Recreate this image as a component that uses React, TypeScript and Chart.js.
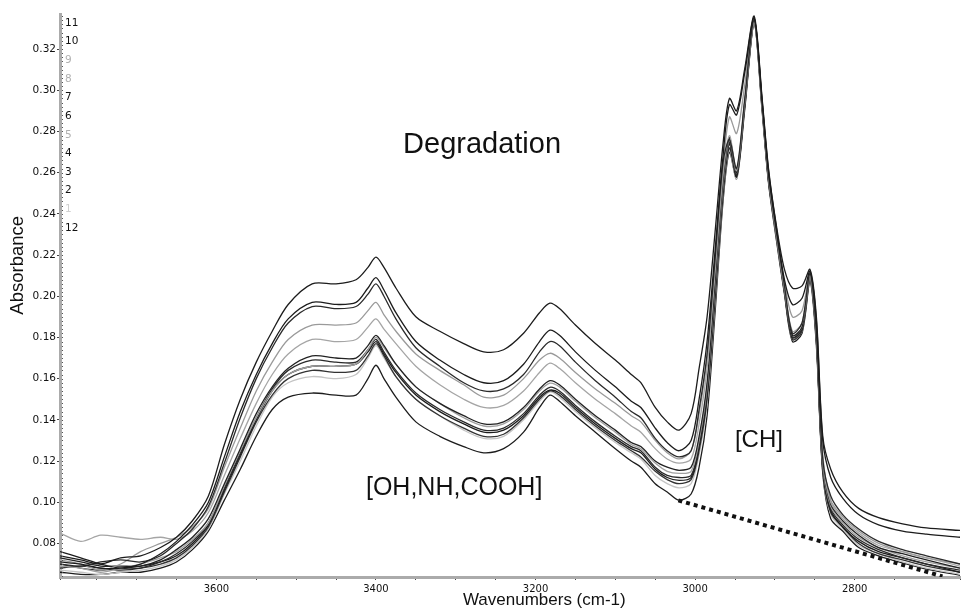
import React, { useEffect, useRef } from "react";
import { Chart, registerables } from "chart.js";

Chart.register(...registerables);

// Wavenumbers (cm-1), descending
const wavenumbers = [3796, 3770, 3745, 3720, 3695, 3670, 3650, 3630, 3610, 3590, 3570, 3550, 3530, 3510, 3480, 3450, 3425, 3410, 3400, 3390, 3375, 3350, 3320, 3290, 3265, 3240, 3215, 3195, 3182, 3170, 3150, 3125, 3100, 3080, 3068, 3050, 3035, 3020, 3005, 2995, 2985, 2975, 2965, 2957, 2948, 2938, 2926, 2916, 2908, 2898, 2888, 2878, 2866, 2856, 2848, 2840, 2830, 2815, 2795, 2770, 2740, 2710, 2668];

const spectrum11 = [0.074, 0.072, 0.070, 0.073, 0.074, 0.078, 0.083, 0.091, 0.103, 0.128, 0.150, 0.168, 0.183, 0.196, 0.206, 0.206, 0.208, 0.214, 0.219, 0.214, 0.204, 0.190, 0.183, 0.177, 0.173, 0.174, 0.182, 0.192, 0.1966, 0.194, 0.186, 0.177, 0.169, 0.162, 0.158, 0.146, 0.139, 0.135, 0.143, 0.165, 0.190, 0.231, 0.274, 0.296, 0.290, 0.310, 0.336, 0.296, 0.262, 0.234, 0.213, 0.204, 0.205, 0.213, 0.190, 0.132, 0.116, 0.105, 0.097, 0.0925, 0.0895, 0.0875, 0.0863];
const spectrum10 = [0.071, 0.070, 0.068, 0.068, 0.070, 0.075, 0.081, 0.089, 0.100, 0.122, 0.144, 0.162, 0.177, 0.189, 0.197, 0.196, 0.197, 0.204, 0.209, 0.203, 0.192, 0.178, 0.169, 0.162, 0.158, 0.159, 0.167, 0.178, 0.1835, 0.181, 0.173, 0.164, 0.156, 0.149, 0.146, 0.136, 0.129, 0.125, 0.130, 0.150, 0.178, 0.222, 0.268, 0.293, 0.288, 0.308, 0.335, 0.295, 0.261, 0.233, 0.208, 0.196, 0.199, 0.212, 0.188, 0.130, 0.112, 0.102, 0.094, 0.089, 0.086, 0.0845, 0.083];
const spectrum7 = [0.070, 0.069, 0.071, 0.072, 0.071, 0.074, 0.080, 0.087, 0.098, 0.119, 0.141, 0.160, 0.175, 0.187, 0.195, 0.194, 0.195, 0.201, 0.206, 0.200, 0.189, 0.175, 0.166, 0.158, 0.154, 0.155, 0.162, 0.173, 0.178, 0.176, 0.168, 0.159, 0.151, 0.144, 0.141, 0.131, 0.125, 0.122, 0.125, 0.145, 0.172, 0.218, 0.265, 0.276, 0.262, 0.295, 0.334, 0.294, 0.259, 0.231, 0.205, 0.182, 0.187, 0.211, 0.182, 0.121, 0.103, 0.094, 0.087, 0.081, 0.077, 0.074, 0.070];
const spectrum9 = [0.072, 0.070, 0.067, 0.070, 0.076, 0.080, 0.083, 0.088, 0.097, 0.117, 0.136, 0.154, 0.168, 0.179, 0.186, 0.186, 0.187, 0.193, 0.197, 0.191, 0.183, 0.172, 0.164, 0.157, 0.151, 0.152, 0.160, 0.169, 0.1723, 0.170, 0.163, 0.155, 0.148, 0.142, 0.139, 0.130, 0.124, 0.121, 0.125, 0.143, 0.170, 0.216, 0.262, 0.287, 0.279, 0.302, 0.335, 0.294, 0.260, 0.232, 0.207, 0.190, 0.193, 0.211, 0.184, 0.123, 0.101, 0.093, 0.086, 0.080, 0.076, 0.073, 0.070];
const spectrum8 = [0.085, 0.081, 0.084, 0.083, 0.082, 0.083, 0.082, 0.086, 0.095, 0.113, 0.131, 0.148, 0.162, 0.172, 0.179, 0.178, 0.179, 0.185, 0.189, 0.184, 0.177, 0.166, 0.157, 0.150, 0.146, 0.147, 0.154, 0.163, 0.1675, 0.165, 0.158, 0.150, 0.143, 0.137, 0.134, 0.126, 0.121, 0.119, 0.121, 0.138, 0.165, 0.212, 0.259, 0.278, 0.261, 0.294, 0.333, 0.293, 0.258, 0.230, 0.204, 0.183, 0.187, 0.210, 0.181, 0.120, 0.100, 0.092, 0.085, 0.079, 0.076, 0.073, 0.069];
const spectrum6 = [0.073, 0.071, 0.069, 0.069, 0.069, 0.072, 0.077, 0.083, 0.092, 0.109, 0.126, 0.143, 0.156, 0.165, 0.171, 0.170, 0.170, 0.176, 0.181, 0.176, 0.167, 0.156, 0.148, 0.142, 0.138, 0.139, 0.146, 0.155, 0.159, 0.157, 0.150, 0.142, 0.135, 0.129, 0.127, 0.120, 0.117, 0.1155, 0.117, 0.132, 0.158, 0.207, 0.256, 0.277, 0.260, 0.293, 0.334, 0.293, 0.258, 0.230, 0.204, 0.181, 0.185, 0.210, 0.180, 0.119, 0.099, 0.091, 0.084, 0.078, 0.075, 0.072, 0.068];
const spectrum5 = [0.069, 0.068, 0.066, 0.068, 0.070, 0.073, 0.076, 0.082, 0.090, 0.108, 0.125, 0.141, 0.154, 0.162, 0.166, 0.166, 0.167, 0.174, 0.180, 0.175, 0.167, 0.156, 0.148, 0.141, 0.137, 0.138, 0.145, 0.154, 0.1578, 0.156, 0.149, 0.141, 0.134, 0.128, 0.126, 0.119, 0.115, 0.114, 0.115, 0.130, 0.156, 0.205, 0.254, 0.276, 0.260, 0.293, 0.333, 0.292, 0.257, 0.229, 0.203, 0.181, 0.185, 0.209, 0.179, 0.118, 0.098, 0.090, 0.083, 0.078, 0.074, 0.071, 0.068];
const spectrum4 = [0.068, 0.069, 0.068, 0.067, 0.068, 0.071, 0.075, 0.081, 0.090, 0.107, 0.124, 0.141, 0.155, 0.164, 0.169, 0.168, 0.168, 0.174, 0.179, 0.173, 0.164, 0.153, 0.145, 0.139, 0.135, 0.136, 0.143, 0.152, 0.1558, 0.154, 0.147, 0.139, 0.132, 0.127, 0.125, 0.117, 0.113, 0.112, 0.113, 0.128, 0.154, 0.203, 0.252, 0.275, 0.259, 0.292, 0.334, 0.292, 0.257, 0.229, 0.203, 0.180, 0.184, 0.209, 0.179, 0.117, 0.097, 0.089, 0.082, 0.077, 0.073, 0.070, 0.067];
const spectrum3 = [0.076, 0.073, 0.070, 0.068, 0.069, 0.071, 0.074, 0.080, 0.089, 0.106, 0.123, 0.140, 0.154, 0.162, 0.166, 0.166, 0.167, 0.173, 0.178, 0.172, 0.163, 0.152, 0.144, 0.138, 0.134, 0.135, 0.142, 0.151, 0.1544, 0.153, 0.146, 0.138, 0.131, 0.126, 0.124, 0.116, 0.112, 0.1106, 0.112, 0.127, 0.152, 0.201, 0.251, 0.274, 0.258, 0.292, 0.333, 0.292, 0.256, 0.229, 0.202, 0.180, 0.184, 0.209, 0.178, 0.116, 0.096, 0.088, 0.081, 0.076, 0.073, 0.070, 0.066];
const spectrum2 = [0.070, 0.068, 0.067, 0.068, 0.068, 0.070, 0.073, 0.079, 0.088, 0.105, 0.122, 0.139, 0.152, 0.160, 0.164, 0.163, 0.164, 0.171, 0.177, 0.171, 0.161, 0.150, 0.142, 0.136, 0.132, 0.133, 0.141, 0.150, 0.154, 0.152, 0.145, 0.137, 0.130, 0.125, 0.122, 0.115, 0.111, 0.109, 0.111, 0.125, 0.150, 0.199, 0.250, 0.272, 0.258, 0.291, 0.332, 0.291, 0.256, 0.228, 0.202, 0.179, 0.183, 0.208, 0.178, 0.115, 0.095, 0.088, 0.080, 0.075, 0.072, 0.069, 0.066];
const spectrum1 = [0.067, 0.066, 0.065, 0.066, 0.067, 0.069, 0.072, 0.078, 0.087, 0.104, 0.120, 0.137, 0.151, 0.158, 0.161, 0.160, 0.162, 0.170, 0.176, 0.170, 0.161, 0.150, 0.142, 0.135, 0.131, 0.132, 0.140, 0.149, 0.1535, 0.151, 0.144, 0.136, 0.129, 0.124, 0.121, 0.113, 0.109, 0.107, 0.109, 0.123, 0.148, 0.197, 0.249, 0.271, 0.257, 0.291, 0.333, 0.291, 0.256, 0.228, 0.202, 0.179, 0.183, 0.208, 0.177, 0.115, 0.094, 0.087, 0.079, 0.075, 0.071, 0.068, 0.065];
const spectrum12 = [0.066, 0.065, 0.065, 0.066, 0.066, 0.068, 0.071, 0.077, 0.086, 0.101, 0.116, 0.132, 0.145, 0.151, 0.153, 0.152, 0.152, 0.160, 0.1665, 0.160, 0.151, 0.139, 0.132, 0.127, 0.124, 0.126, 0.134, 0.146, 0.152, 0.149, 0.142, 0.134, 0.126, 0.120, 0.117, 0.109, 0.105, 0.101, 0.104, 0.117, 0.142, 0.192, 0.246, 0.270, 0.257, 0.290, 0.332, 0.290, 0.255, 0.227, 0.201, 0.178, 0.182, 0.207, 0.176, 0.114, 0.092, 0.086, 0.078, 0.074, 0.0705, 0.0675, 0.0645];

// Baseline drawn under the CH band
const baselineWavenumbers = [3021, 2690];
const baselineValues = [0.1009, 0.064];

// Label list at the top-left of the plot
const sampleLabels = ["11", "10", "9", "8", "7", "6", "5", "4", "3", "2", "1", "12"];
const sampleLabelColors = ["#111", "#111", "#b0b0b0", "#b0b0b0", "#111", "#111", "#b0b0b0", "#111", "#111", "#111", "#d0d0d0", "#111"];

const seriesList = [
  { name: "11", values: spectrum11, color: "#1c1c1c" },
  { name: "10", values: spectrum10, color: "#1c1c1c" },
  { name: "7", values: spectrum7, color: "#2a2a2a" },
  { name: "9", values: spectrum9, color: "#9a9a9a" },
  { name: "8", values: spectrum8, color: "#a5a5a5" },
  { name: "6", values: spectrum6, color: "#222222" },
  { name: "5", values: spectrum5, color: "#a0a0a0" },
  { name: "4", values: spectrum4, color: "#2a2a2a" },
  { name: "3", values: spectrum3, color: "#1c1c1c" },
  { name: "2", values: spectrum2, color: "#333333" },
  { name: "1", values: spectrum1, color: "#c4c4c4" },
  { name: "12", values: spectrum12, color: "#1c1c1c" },
];

const isMajorY = (v: number) => Math.abs(v * 50 - Math.round(v * 50)) < 1e-6;

const decorPlugin = {
  id: "decor",
  afterDraw(chart: any) {
    const { ctx, chartArea, scales } = chart;
    const x = scales.x;
    const y = scales.y;
    ctx.save();
    // minor dotted ticks along the y axis
    ctx.fillStyle = "#555";
    for (let k = 32; k <= 168; k++) {
      const v = k * 0.002;
      if (v < y.min || v > y.max) continue;
      const py = Math.round(y.getPixelForValue(v));
      ctx.fillRect(chartArea.left + 2, py, 1, 1);
    }
    // sample numbers
    ctx.font = '10.5px "DejaVu Sans"';
    ctx.textBaseline = "middle";
    ctx.textAlign = "left";
    sampleLabels.forEach((t, i) => {
      ctx.fillStyle = sampleLabelColors[i];
      ctx.fillText(t, chartArea.left + 5, chartArea.top + 9 + i * 18.64);
    });
    // annotations
    ctx.fillStyle = "#111";
    ctx.textAlign = "center";
    ctx.font = '29px "Liberation Sans"';
    ctx.fillText("Degradation", x.getPixelForValue(3267), y.getPixelForValue(0.2734));
    ctx.font = '25px "Liberation Sans"';
    ctx.fillText("[OH,NH,COOH]", x.getPixelForValue(3302), y.getPixelForValue(0.1067));
    ctx.font = '24px "Liberation Sans"';
    ctx.fillText("[CH]", x.getPixelForValue(2920), y.getPixelForValue(0.130));
    // axis titles
    ctx.font = '17px "Liberation Sans"';
    ctx.fillText("Wavenumbers (cm-1)", x.getPixelForValue(3189), chart.height - 10);
    ctx.save();
    ctx.translate(18, y.getPixelForValue(0.215));
    ctx.rotate(-Math.PI / 2);
    ctx.font = '18.5px "Liberation Sans"';
    ctx.fillText("Absorbance", 0, 0);
    ctx.restore();
    ctx.restore();
  },
};

export default function App() {
  const canvasRef = useRef<HTMLCanvasElement | null>(null);

  useEffect(() => {
    document.body.style.margin = "0";
    const canvas = canvasRef.current;
    if (!canvas) return;
    const datasets: any[] = seriesList.map((s) => ({
      label: s.name,
      data: wavenumbers.map((w, i) => ({ x: w, y: s.values[i] })),
      borderColor: s.color,
      borderWidth: 1.3,
      pointRadius: 0,
      fill: false,
      tension: 0.3,
    }));
    datasets.push({
      label: "baseline",
      data: baselineWavenumbers.map((w, i) => ({ x: w, y: baselineValues[i] })),
      borderColor: "#111",
      borderWidth: 4,
      borderDash: [4, 4],
      borderCapStyle: "butt",
      pointRadius: 0,
      fill: false,
    });

    const chart = new Chart(canvas, {
      type: "line",
      data: { datasets },
      options: {
        animation: false,
        responsive: false,
        devicePixelRatio: 1,
        layout: { padding: { top: 14, right: 0, left: 0, bottom: 0 } },
        plugins: { legend: { display: false }, tooltip: { enabled: false } },
        scales: {
          x: {
            type: "linear",
            reverse: true,
            min: 2668,
            max: 3796,
            border: { display: true, color: "#ababab", width: 3 },
            grid: { drawOnChartArea: false, drawTicks: true, tickLength: 3, color: "#444", lineWidth: 1 },
            ticks: {
              stepSize: 50,
              autoSkip: false,
              maxRotation: 0,
              padding: 3,
              color: "#111",
              font: { family: "DejaVu Sans", size: 10 },
              callback: (v: any) => (Number(v) % 200 === 0 ? String(v) : ""),
            },
            afterFit: (s: any) => {
              s.height = 33;
            },
          },
          y: {
            type: "linear",
            min: 0.0637,
            max: 0.337,
            border: { display: true, color: "#ababab", width: 3 },
            grid: {
              drawOnChartArea: false,
              drawTicks: true,
              tickLength: 3,
              lineWidth: 1,
              color: (c: any) => (c.tick && isMajorY(c.tick.value) ? "#444" : "rgba(0,0,0,0)"),
            },
            ticks: {
              stepSize: 0.002,
              autoSkip: false,
              padding: 1,
              color: "#111",
              font: { family: "DejaVu Sans", size: 10.5 },
              callback: (v: any) => {
                const n = Number(v);
                return isMajorY(n) && n > 0.079 ? n.toFixed(2) : "";
              },
            },
            afterFit: (s: any) => {
              s.width = 60;
            },
          },
        },
      },
      plugins: [decorPlugin],
    });
    return () => chart.destroy();
  }, []);

  return (
    <div style={{ width: 963, height: 610, background: "#fff" }}>
      <canvas ref={canvasRef} width={963} height={610} style={{ display: "block" }} />
    </div>
  );
}
